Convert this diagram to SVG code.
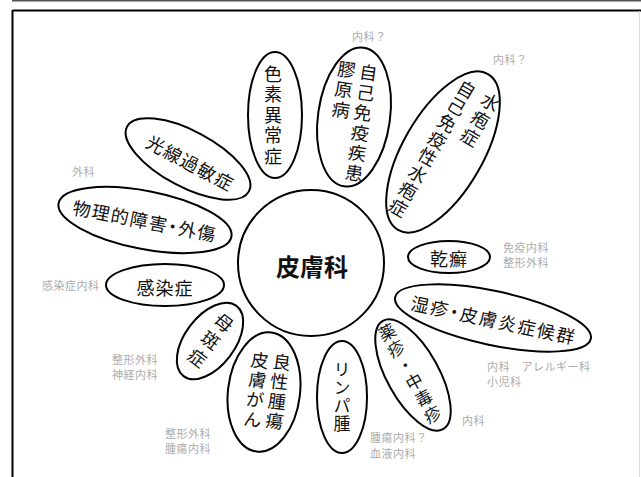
<svg xmlns="http://www.w3.org/2000/svg" width="641" height="477" viewBox="0 0 641 477">
<style>
.e{fill:#fff;stroke:#000;stroke-width:2}
.t{font-family:"Noto Sans CJK JP","Noto Sans CJK SC",sans-serif;font-size:18px;fill:#111}
.v{writing-mode:vertical-rl}
.m{text-anchor:middle}
.s{text-anchor:start}
.c{dominant-baseline:central}
.p{font-feature-settings:"palt"}
.g{font-family:"Noto Sans CJK JP","Noto Sans CJK SC",sans-serif;font-size:11px;fill:#ababab}
</style>
<rect x="0" y="0" width="641" height="477" fill="#fff"/>
<g id="frame">
<line x1="12" y1="0.75" x2="641" y2="0.75" stroke="#555" stroke-width="1.5"/>
<line x1="12.5" y1="10.5" x2="641" y2="10.5" stroke="#000" stroke-width="2"/>
<line x1="12.5" y1="10" x2="12.5" y2="477" stroke="#000" stroke-width="2"/>
<line x1="639.5" y1="11" x2="639.5" y2="477" stroke="#ddd" stroke-width="1"/>
</g>
<g id="connectors"></g>
<g id="center">
<circle class="e" cx="311" cy="263" r="73"/>
<text class="t m c" x="312" y="265" style="font-size:24px;font-weight:bold">皮膚科</text>
</g>
<g id="shikiso" transform="translate(275,115)">
<ellipse class="e" rx="27" ry="63"/>
<text class="t v m" x="-2" y="1" style="letter-spacing:2.5px">色素異常症</text>
</g>
<g id="jiko" transform="translate(354,117) rotate(8)">
<ellipse class="e" rx="36" ry="70"/>
<text class="t v s" x="8" y="-55" style="letter-spacing:2.3px">自己免疫疾患</text>
<text class="t v s" x="-14" y="-55" style="letter-spacing:2.3px">膠原病</text>
</g>
<g id="suihou" transform="translate(443,152) rotate(30)">
<ellipse class="e" rx="40" ry="90"/>
<text class="t v s" x="16" y="-76" style="letter-spacing:2.3px">水疱症</text>
<text class="t v s" x="-11" y="-75" style="letter-spacing:1.5px">自己免疫性水疱症</text>
</g>
<g id="kousen" transform="translate(188,159) rotate(28)">
<ellipse class="e" rx="69" ry="28"/>
<text class="t m c" x="4" y="1.5" style="letter-spacing:1.3px">光線過敏症</text>
</g>
<g id="butsuri" transform="translate(145,220) rotate(11)">
<ellipse class="e" rx="88" ry="29"/>
<text class="t m c p" x="0" y="0" style="letter-spacing:1.4px">物理的障害・外傷</text>
</g>
<g id="kansen" transform="translate(165,285)">
<ellipse class="e" rx="59" ry="21"/>
<text class="t m c" x="0" y="2" style="letter-spacing:1px">感染症</text>
</g>
<g id="bohan" transform="translate(210,341) rotate(37)">
<ellipse class="e" rx="25" ry="44"/>
<text class="t v m" x="0" y="1" style="letter-spacing:4px">母斑症</text>
</g>
<g id="ryousei" transform="translate(264,392) rotate(7)">
<ellipse class="e" rx="36" ry="60"/>
<text class="t v s" x="14" y="-41" style="letter-spacing:1.8px">良性腫瘍</text>
<text class="t v s" x="-8" y="-40" style="letter-spacing:1.8px">皮膚がん</text>
</g>
<g id="linpa" transform="translate(342,397)">
<ellipse class="e" rx="25" ry="56"/>
<text class="t v m" x="0" y="0" style="font-size:17px;letter-spacing:1px">リンパ腫</text>
</g>
<g id="yakushin" transform="translate(413,375) rotate(-29)">
<ellipse class="e" rx="26" ry="62"/>
<text class="t v m" x="-2" y="-2" style="font-size:17px;letter-spacing:1.8px">薬疹・中毒疹</text>
</g>
<g id="shisshin" transform="translate(493,318) rotate(12)">
<ellipse class="e" rx="100" ry="27"/>
<text class="t m c p" x="1" y="1" style="letter-spacing:1.7px">湿疹・皮膚炎症候群</text>
</g>
<g id="kansen2" transform="translate(449,257)">
<ellipse class="e" rx="41" ry="16"/>
<text class="t m c" x="0" y="1" style="letter-spacing:1px">乾癬</text>
</g>
<g id="labels">
<text class="g" x="352" y="41" style="letter-spacing:0.5px">内科？</text>
<text class="g" x="493" y="64" style="letter-spacing:0.5px">内科？</text>
<text class="g" x="72" y="176" style="letter-spacing:0.5px">外科</text>
<text class="g" x="503" y="252" style="letter-spacing:0.5px">免疫内科</text>
<text class="g" x="503" y="267" style="letter-spacing:0.5px">整形外科</text>
<text class="g" x="42" y="290" style="letter-spacing:0.5px">感染症内科</text>
<text class="g" x="112" y="364" style="letter-spacing:0.5px">整形外科</text>
<text class="g" x="112" y="379" style="letter-spacing:0.5px">神経内科</text>
<text class="g" x="165" y="438" style="letter-spacing:0.5px">整形外科</text>
<text class="g" x="165" y="453" style="letter-spacing:0.5px">腫瘍内科</text>
<text class="g" x="370" y="442" style="letter-spacing:0.5px">腫瘍内科？</text>
<text class="g" x="370" y="458" style="letter-spacing:0.5px">血液内科</text>
<text class="g" x="487" y="371" style="letter-spacing:0.5px">内科　アレルギー科</text>
<text class="g" x="487" y="386" style="letter-spacing:0.5px">小児科</text>
<text class="g" x="462" y="425" style="letter-spacing:0.5px">内科</text>
</g>
</svg>
